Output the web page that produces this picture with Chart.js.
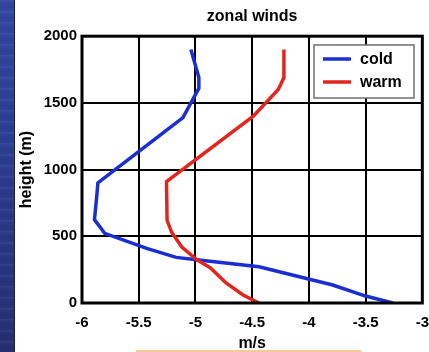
<!DOCTYPE html>
<html>
<head>
<meta charset="utf-8">
<title>zonal winds</title>
<script src="https://cdn.jsdelivr.net/npm/chart.js@4.4.1/dist/chart.umd.min.js"></script>
<style>
  html, body { margin: 0; padding: 0; width: 429px; height: 352px; overflow: hidden; background: #ffffff; }
  #strip {
    position: absolute; left: 0; top: 0; width: 14px; height: 352px;
    background:
      repeating-linear-gradient(180deg, rgba(255,255,255,0.06) 0px, rgba(255,255,255,0.0) 3px, rgba(0,0,0,0.06) 7px, rgba(255,255,255,0.0) 11px),
      linear-gradient(180deg, #3347a0 0%, #2d3f94 40%, #2a3784 70%, #272f72 100%);
    border-right: 1px solid #1b1f44;
  }
  #foot { position: absolute; left: 136px; top: 350px; width: 225px; height: 2px; background: #f6c897; }
  #c { position: absolute; left: 0; top: 0; }
</style>
</head>
<body>
<div id="strip"></div>
<canvas id="c" width="440" height="352"></canvas>
<div id="foot"></div>
<script>
// Zonal wind profiles (m/s) against height (m)
const coldHeight = [0, 52, 135, 272, 324, 342, 410, 522, 625, 800, 900, 1390, 1610, 1690, 1900];
const coldWind   = [-3.26, -3.50, -3.79, -4.44, -4.99, -5.17, -5.43, -5.80, -5.89, -5.87, -5.86, -5.11, -4.97, -4.97, -5.04];

const warmHeight = [0, 60, 150, 265, 325, 420, 530, 620, 910, 1400, 1600, 1690, 1900];
const warmWind   = [-4.44, -4.58, -4.73, -4.87, -4.99, -5.12, -5.21, -5.25, -5.255, -4.49, -4.27, -4.22, -4.22];

const xTicks = [-6, -5.5, -5, -4.5, -4, -3.5, -3];
const yTicks = [0, 500, 1000, 1500, 2000];

const FONT = "'Liberation Sans', Arial, Helvetica, sans-serif";

function toPoints(xs, ys) {
  return xs.map((v, i) => ({ x: v, y: ys[i] }));
}

// Thick black frame around the plotting area
const framePlugin = {
  id: 'frame',
  afterDatasetsDraw(chart) {
    const { ctx, chartArea: a } = chart;
    ctx.save();
    ctx.strokeStyle = '#000';
    ctx.lineWidth = 3;
    ctx.strokeRect(a.left, a.top, a.right - a.left, a.bottom - a.top);
    ctx.restore();
  }
};

// Boxed legend in the upper right corner of the plot
const boxLegend = {
  id: 'boxLegend',
  afterDraw(chart) {
    const { ctx } = chart;
    const bx = 314, by = 45, bw = 100, bh = 53;
    ctx.save();
    ctx.fillStyle = '#ffffff';
    ctx.fillRect(bx, by, bw, bh);
    ctx.strokeStyle = '#707070';
    ctx.lineWidth = 1.5;
    ctx.strokeRect(bx, by, bw, bh);
    ctx.font = 'bold 16px ' + FONT;
    ctx.textBaseline = 'middle';
    ctx.textAlign = 'left';
    chart.data.datasets.forEach((ds, i) => {
      const y = 59 + i * 23;
      ctx.strokeStyle = ds.borderColor;
      ctx.lineWidth = 3.5;
      ctx.beginPath();
      ctx.moveTo(323, y);
      ctx.lineTo(351, y);
      ctx.stroke();
      ctx.fillStyle = '#000';
      ctx.fillText(ds.label, 360, y + 1);
    });
    ctx.restore();
  }
};

new Chart(document.getElementById('c'), {
  type: 'line',
  data: {
    datasets: [
      {
        label: 'cold',
        data: toPoints(coldWind, coldHeight),
        borderColor: '#1a2ed2',
        borderWidth: 3.5,
        pointRadius: 0,
        tension: 0,
        fill: false,
        order: 1
      },
      {
        label: 'warm',
        data: toPoints(warmWind, warmHeight),
        borderColor: '#e3261d',
        borderWidth: 3.5,
        pointRadius: 0,
        tension: 0,
        fill: false,
        order: 0
      }
    ]
  },
  options: {
    responsive: false,
    animation: false,
    devicePixelRatio: 1,
    layout: { padding: { left: 0, right: 17, top: 0, bottom: 0 } },
    plugins: {
      legend: { display: false },
      tooltip: { enabled: false },
      title: {
        display: true,
        fullSize: false,
        text: 'zonal winds',
        color: '#000',
        font: { family: FONT, size: 16, weight: 'bold' },
        padding: { top: 7, bottom: 10 }
      }
    },
    scales: {
      x: {
        type: 'linear',
        min: xTicks[0],
        max: xTicks[xTicks.length - 1],
        afterBuildTicks(scale) { scale.ticks = xTicks.map(v => ({ value: v })); },
        afterFit(scale) { scale.height = 49; },
        ticks: {
          color: '#000',
          font: { family: FONT, size: 15, weight: 'bold' },
          padding: 11,
          maxRotation: 0,
          autoSkip: false,
          callback: v => String(v)
        },
        grid: { color: '#000', lineWidth: 2, drawTicks: false },
        border: { display: false },
        title: {
          display: true,
          text: 'm/s',
          color: '#000',
          font: { family: FONT, size: 16, weight: 'bold' },
          padding: { top: 0, bottom: -1 }
        }
      },
      y: {
        type: 'linear',
        min: yTicks[0],
        max: yTicks[yTicks.length - 1],
        afterBuildTicks(scale) { scale.ticks = yTicks.map(v => ({ value: v })); },
        afterFit(scale) { scale.width = 82; },
        ticks: {
          color: '#000',
          font: { family: FONT, size: 15, weight: 'bold' },
          padding: 5,
          autoSkip: false,
          callback: v => String(v)
        },
        grid: { color: '#000', lineWidth: 2, drawTicks: false },
        border: { display: false },
        title: {
          display: true,
          text: 'height (m)',
          color: '#000',
          font: { family: FONT, size: 16, weight: 'bold' },
          padding: { top: 17, bottom: 0 }
        }
      }
    }
  },
  plugins: [framePlugin, boxLegend]
});
</script>
</body>
</html>
